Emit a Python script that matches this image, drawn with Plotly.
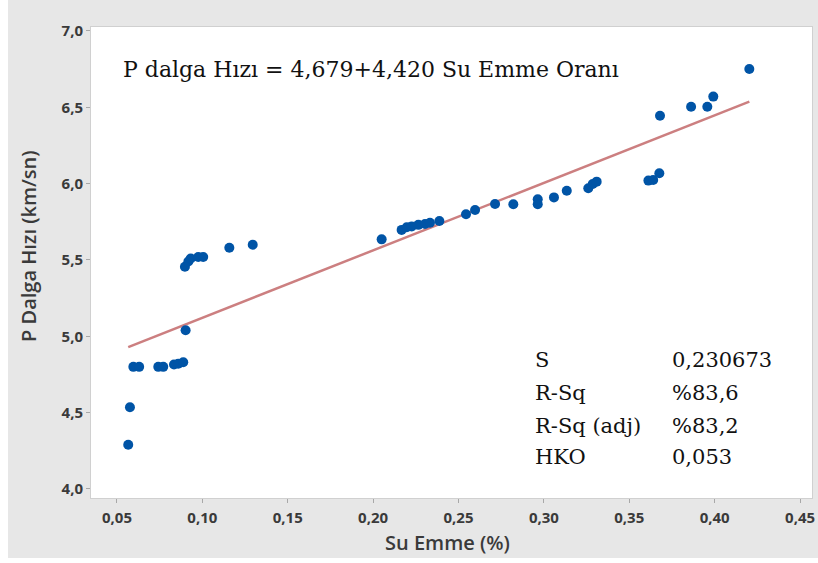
import plotly.graph_objects as go

# Data
su_emme = [0.0566, 0.0576, 0.0596, 0.0630, 0.0742, 0.0771, 0.0834, 0.0859, 0.0888, 0.0902,
           0.0898, 0.0918, 0.0932, 0.0976, 0.1005, 0.1158, 0.1295,
           0.2050, 0.2167, 0.2197, 0.2226, 0.2265, 0.2304, 0.2333, 0.2388,
           0.2544, 0.2597, 0.2714, 0.2821, 0.2964, 0.2964, 0.3059, 0.3134,
           0.3260, 0.3286, 0.3309, 0.3612, 0.3640, 0.3676, 0.3680, 0.3862,
           0.3957, 0.3992, 0.4203]
p_hizi = [4.29, 4.535, 4.80, 4.80, 4.80, 4.80, 4.815, 4.82, 4.83, 5.04,
          5.456, 5.49, 5.51, 5.52, 5.52, 5.58, 5.60,
          5.635, 5.697, 5.714, 5.72, 5.73, 5.736, 5.744, 5.755,
          5.80, 5.827, 5.867, 5.865, 5.898, 5.865, 5.91, 5.954,
          5.97, 5.998, 6.013, 6.02, 6.024, 6.068, 6.445, 6.504,
          6.504, 6.57, 6.751]

intercept = 4.679
slope = 4.420

x_tickvals = [0.05, 0.10, 0.15, 0.20, 0.25, 0.30, 0.35, 0.40, 0.45]
x_ticktext = ["0,05", "0,10", "0,15", "0,20", "0,25", "0,30", "0,35", "0,40", "0,45"]
y_tickvals = [4.0, 4.5, 5.0, 5.5, 6.0, 6.5, 7.0]
y_ticktext = ["4,0", "4,5", "5,0", "5,5", "6,0", "6,5", "7,0"]

x_title = "Su Emme (%)"
y_title = "P Dalga Hızı (km/sn)"
stat_labels = ["S", "R-Sq", "R-Sq (adj)", "HKO"]
stat_values = ["0,230673", "%83,6", "%83,2", "0,053"]
equation = "P dalga Hızı = 4,679+4,420 Su Emme Oranı"

fit_x = [min(su_emme), max(su_emme)]
fit_y = [intercept + slope * v for v in fit_x]

fig = go.Figure()
fig.add_trace(go.Scatter(x=fit_x, y=fit_y, mode="lines",
                         line=dict(color="#cc7f80", width=2.5), hoverinfo="skip"))
fig.add_trace(go.Scatter(x=su_emme, y=p_hizi, mode="markers",
                         marker=dict(color="#0054a6", size=10)))

tick_font = dict(family="Open Sans", size=15, color="#3a3a3a", weight="bold")
title_font = dict(family="Open Sans", size=20, color="#3a3a3a", weight=600)
serif = dict(family="DejaVu Serif", size=21, color="#111111")
serif_eq = dict(family="DejaVu Serif", size=22, color="#111111")

annotations = [dict(x=0.0523, y=6.745, xref="x", yref="y", text=equation,
                    showarrow=False, xanchor="left", yanchor="middle", font=serif_eq)]
row_y = [4.845, 4.629, 4.413, 4.21]
for lab, val, yy in zip(stat_labels, stat_values, row_y):
    annotations.append(dict(x=0.2936, y=yy, xref="x", yref="y", text=lab, showarrow=False,
                            xanchor="left", yanchor="middle", font=serif))
    annotations.append(dict(x=0.3739, y=yy, xref="x", yref="y", text=val, showarrow=False,
                            xanchor="left", yanchor="middle", font=serif))
annotations.append(dict(x=0.4938, y=-0.0955, xref="paper", yref="paper", text=x_title,
                        showarrow=False, xanchor="center", yanchor="middle", font=title_font))
annotations.append(dict(x=-0.0874, y=0.535, xref="paper", yref="paper", text=y_title,
                        textangle=-90, showarrow=False, xanchor="center", yanchor="middle",
                        font=title_font))

fig.update_layout(
    width=810, height=558,
    margin=dict(l=83, r=6, t=27, b=60),
    paper_bgcolor="#e7e7e7", plot_bgcolor="white",
    showlegend=False,
    annotations=annotations,
    xaxis=dict(range=[0.0348, 0.457], tickvals=x_tickvals, ticktext=x_ticktext,
               showgrid=False, zeroline=False, ticks="outside", ticklen=4, tickcolor="#a8a8a8",
               showline=True, linecolor="#d0d0d0", mirror=True, tickfont=tick_font,
               ticklabelstandoff=2, automargin=False),
    yaxis=dict(range=[3.941, 7.026], tickvals=y_tickvals, ticktext=y_ticktext,
               showgrid=False, zeroline=False, ticks="outside", ticklen=4, tickcolor="#a8a8a8",
               showline=True, linecolor="#d0d0d0", mirror=True, tickfont=tick_font,
               automargin=False),
)

fig.write_html("out.html", post_script="document.body.style.margin='0 0 0 8px';")
